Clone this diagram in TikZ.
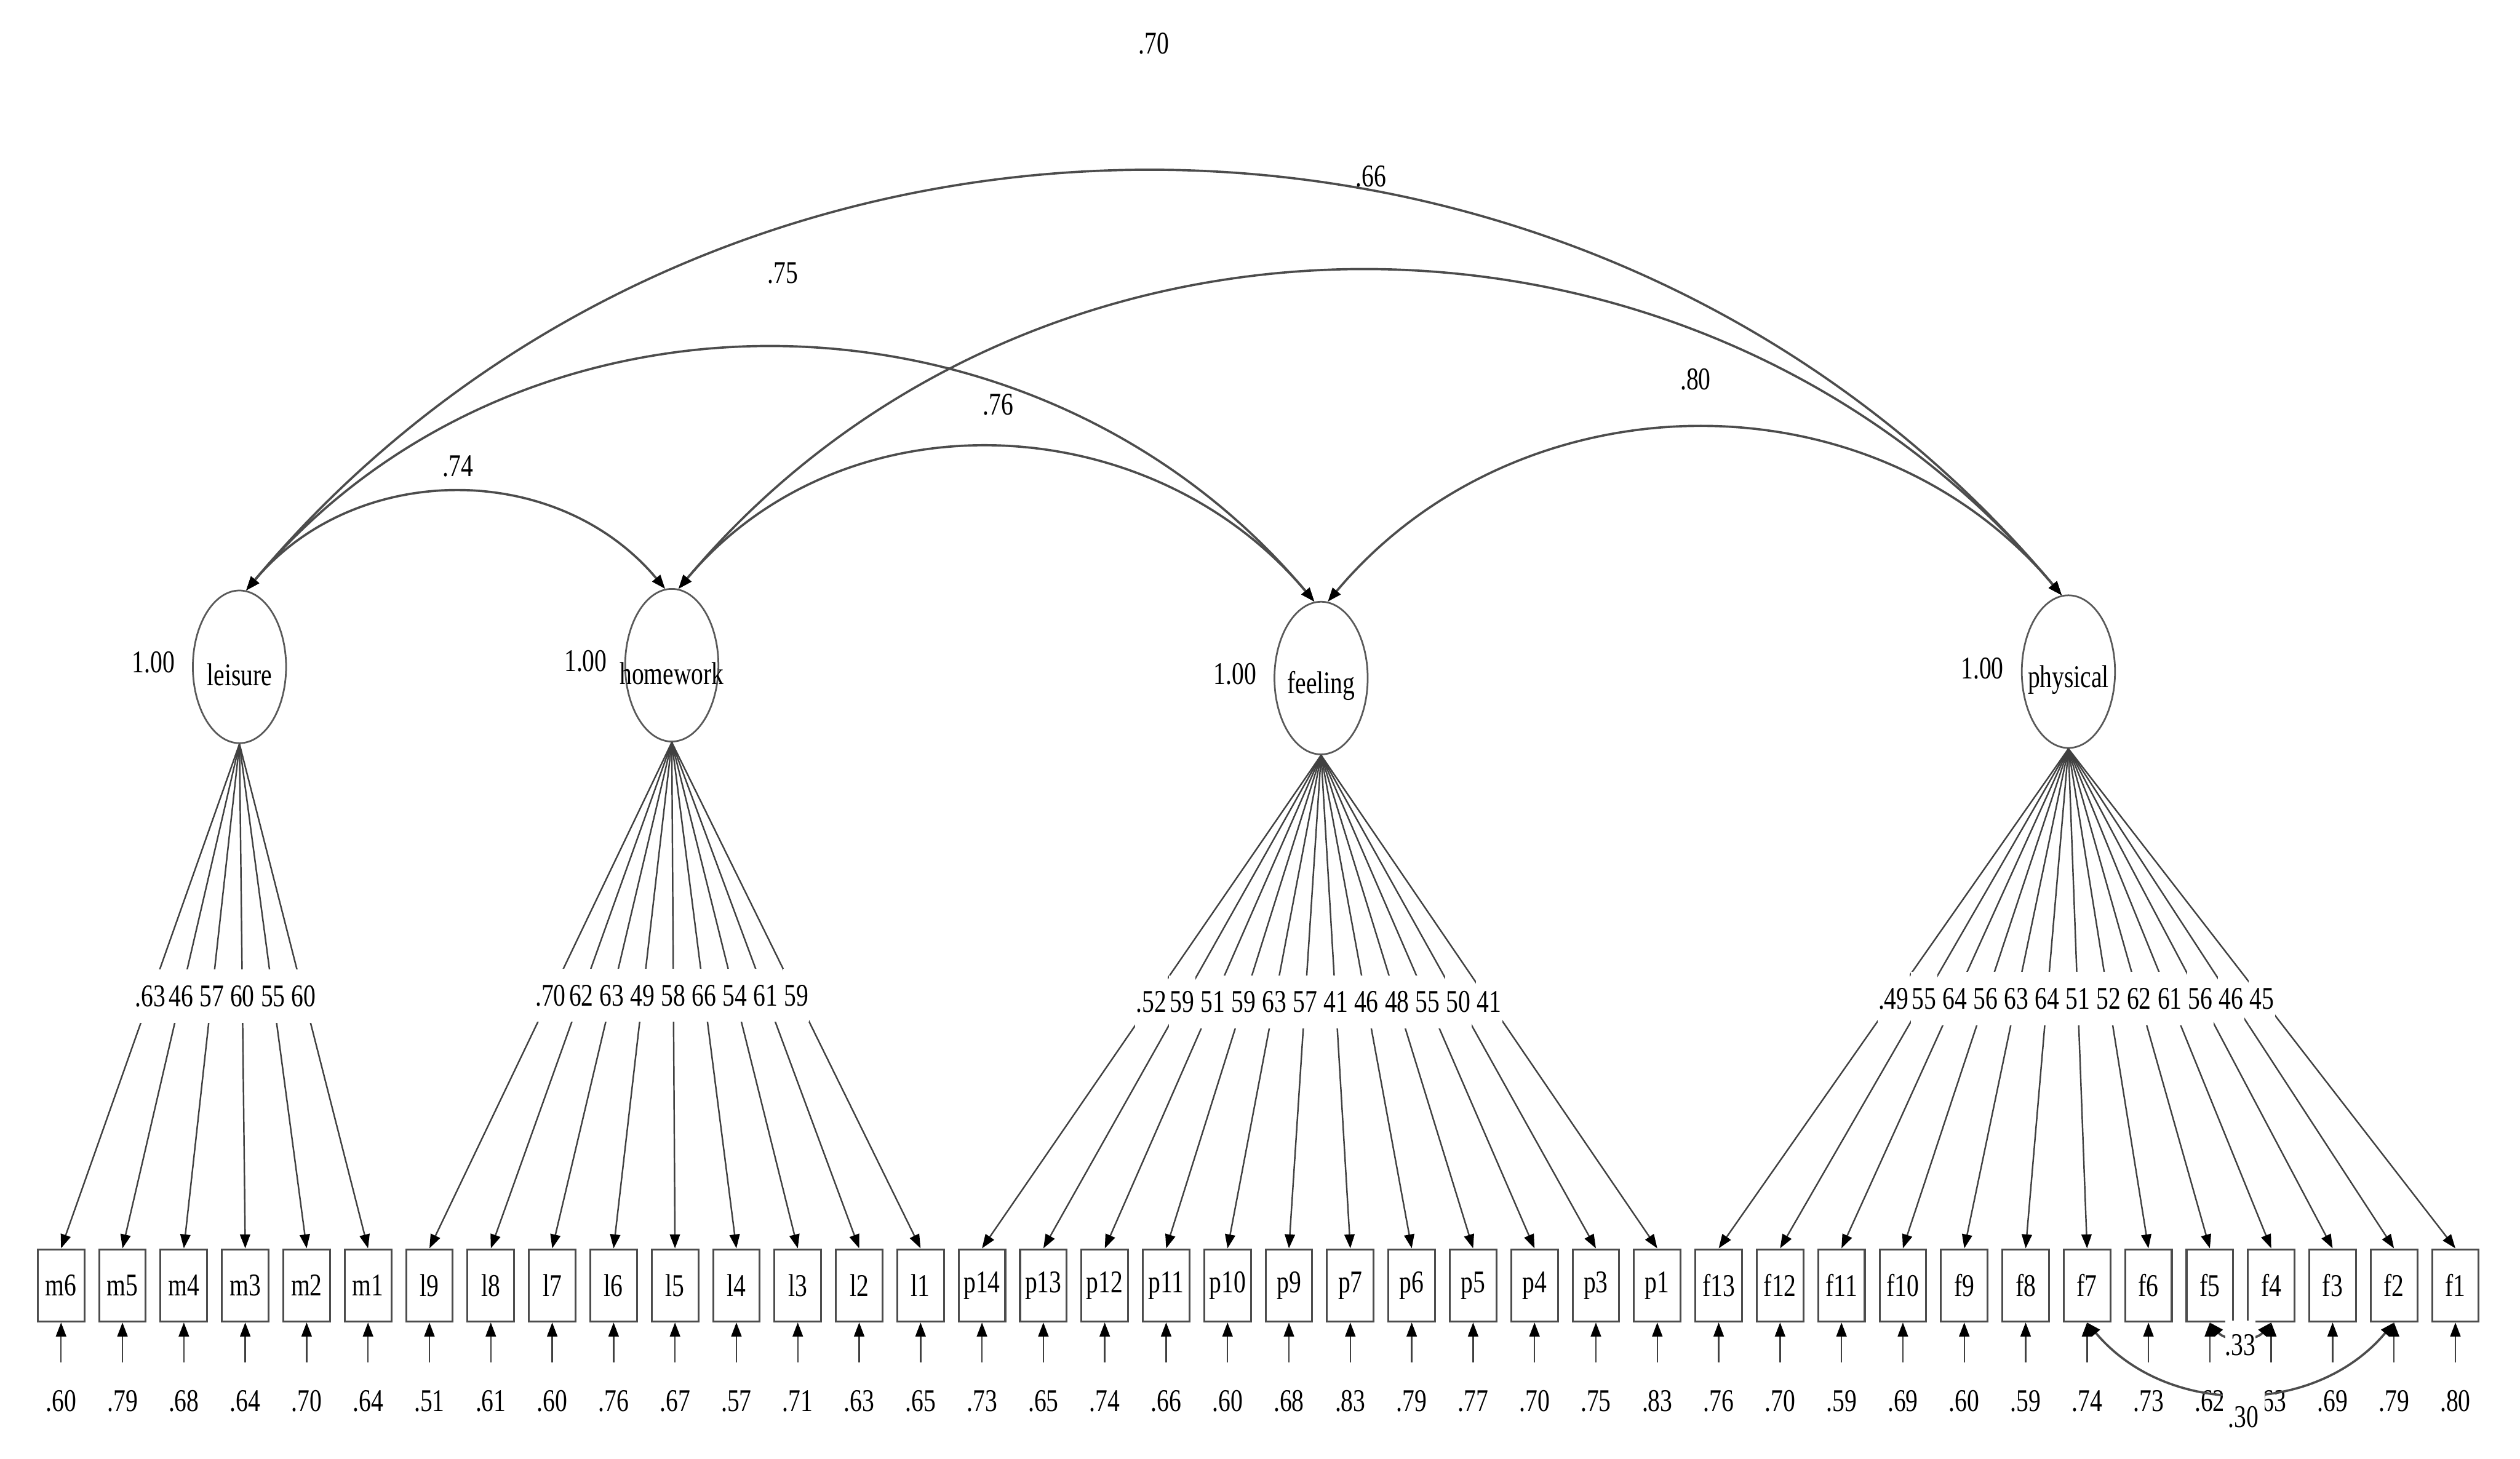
\documentclass[tikz,border=0pt]{standalone}
\usepackage{fontspec}
\setmainfont{Liberation Serif}[FakeStretch=0.77]
\usetikzlibrary{arrows.meta, shapes.geometric, positioning}

\tikzset{
  lat/.style={ellipse, draw=black!65, line width=0.9pt, minimum width=1.74cm, minimum height=2.85cm, inner sep=0pt},
  latname/.style={yshift=-0.15cm},
  ind/.style={rectangle, draw=black!70, line width=1pt, minimum width=0.87cm, minimum height=1.35cm, inner sep=0pt},
  arr/.style={draw=black!75, line width=0.8pt, -{Triangle[length=0.26cm, width=0.19cm, color=black]}},
  cov/.style={draw=black!70, line width=1.2pt, {Triangle[length=0.26cm, width=0.19cm, color=black]}-{Triangle[length=0.26cm, width=0.19cm, color=black]}},
  lbl/.style={pos=0.5, fill=white, text height=0.39cm, text depth=0pt, inner xsep=0.5pt, inner ysep=0.3cm},
  errlbl/.style={text height=0.39cm, text depth=0pt, inner xsep=0pt, inner ysep=0.525cm},
  covlbl/.style={fill=white, inner sep=0pt},
}

\begin{document}
\begin{tikzpicture}[x=0.03cm, y=0.03cm, font=\fontsize{16.8}{20}\selectfont]
\useasboundingbox (0,0) rectangle (1568,-908);
% latent factors
\node[lat, label={[latname]center:leisure}] (leisure) at (149,-415) {};
\node[lat, label={[latname]center:homework}] (homework) at (418,-414) {};
\node[lat, label={[latname]center:feeling}] (feeling) at (822,-422) {};
\node[lat, label={[latname]center:physical}] (physical) at (1287,-418) {};
% variances
\node[left=0.2cm of leisure, yshift=0.08cm] (vleisure) {1.00};
\node[left=0.2cm of homework, yshift=0.08cm] (vhomework) {1.00};
\node[left=0.2cm of feeling, yshift=0.08cm] (vfeeling) {1.00};
\node[left=0.2cm of physical, yshift=0.06cm] (vphysical) {1.00};
% factor covariances
\draw[cov] (leisure.85) to[out=50, in=130, looseness=1.03] (homework.95);
\draw[cov] (leisure.85) to[out=50, in=130, looseness=1.03] (feeling.95);
\draw[cov] (leisure.85) to[out=50, in=130, looseness=1.03] (physical.95);
\draw[cov] (homework.85) to[out=50, in=130, looseness=1.03] (feeling.95);
\draw[cov] (homework.85) to[out=50, in=130, looseness=1.03] (physical.95);
\draw[cov] (feeling.85) to[out=50, in=130, looseness=1.03] (physical.95);
\node (r70) at (718,-27) {.70};
\node (r66) at (853,-110) {.66};
\node (r75) at (487,-170) {.75};
\node (r80) at (1055,-236) {.80};
\node (r76) at (621,-252) {.76};
\node (r74) at (285,-290) {.74};
% indicators, loadings and residuals
\foreach \nm/\lat/\ld/\er [count=\i] in {
  m6/leisure/.63/.60, m5/leisure/46/.79, m4/leisure/57/.68, m3/leisure/60/.64, m2/leisure/55/.70, m1/leisure/60/.64,
  l9/homework/.70/.51, l8/homework/62/.61, l7/homework/63/.60, l6/homework/49/.76, l5/homework/58/.67,
  l4/homework/66/.57, l3/homework/54/.71, l2/homework/61/.63, l1/homework/59/.65,
  p14/feeling/.52/.73, p13/feeling/59/.65, p12/feeling/51/.74, p11/feeling/59/.66, p10/feeling/63/.60, p9/feeling/57/.68,
  p7/feeling/41/.83, p6/feeling/46/.79, p5/feeling/48/.77, p4/feeling/55/.70, p3/feeling/50/.75, p1/feeling/41/.83,
  f13/physical/.49/.76, f12/physical/55/.70, f11/physical/64/.59, f10/physical/56/.69, f9/physical/63/.60,
  f8/physical/64/.59, f7/physical/51/.74, f6/physical/52/.73, f5/physical/62/.62, f4/physical/61/.63,
  f3/physical/56/.69, f2/physical/46/.79, f1/physical/45/.80}
{
  \pgfmathsetmacro\xx{38+38.2*(\i-1)}
  \node[ind] (\nm) at (\xx,-800) {\nm};
  \draw[arr] (\lat.south) -- node[lbl] {\ld} (\nm.north);
  \node[errlbl] (e\nm) at (\xx,-872) {\er};
  \draw[arr] (e\nm.north) -- (\nm.south);
}
% correlated residuals
\draw[cov] (f7.south) to[out=-50, in=-130, looseness=1.03] (f2.south);
\draw[cov] (f5.south) to[out=-50, in=-130, looseness=1.03] (f4.south);
\node[covlbl, minimum width=0.57cm, minimum height=0.9cm] (r33) at (1394,-837) {.33};
\node[covlbl, minimum width=0.78cm, minimum height=1.0cm] (r30) at (1396,-882) {.30};
\end{tikzpicture}
\end{document}
